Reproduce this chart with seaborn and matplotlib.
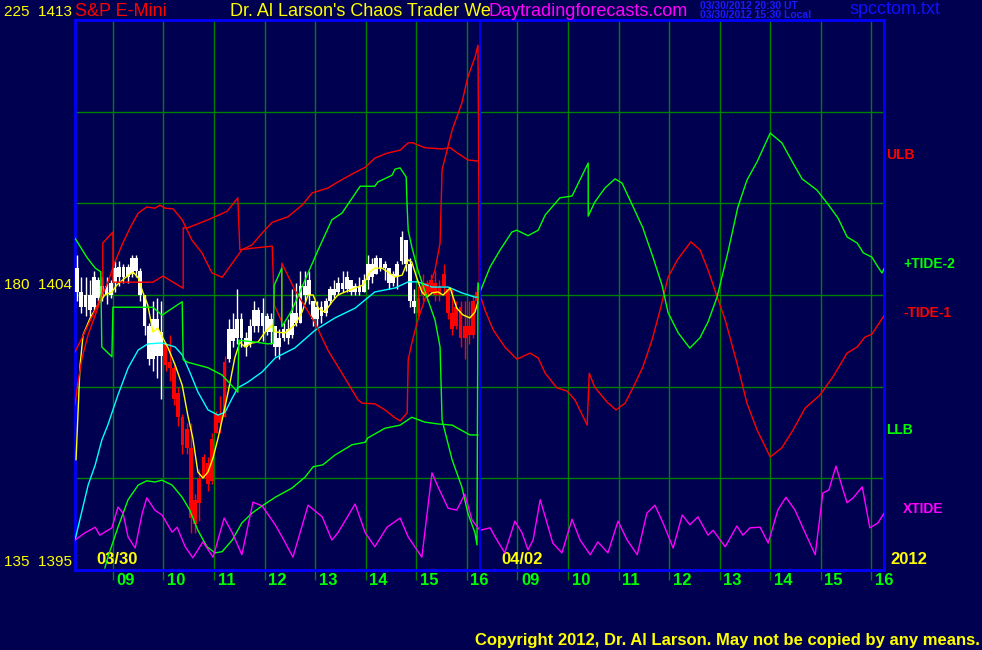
import matplotlib
matplotlib.use("Agg")
import matplotlib.pyplot as plt
from matplotlib import font_manager
import numpy as np
import seaborn as sns

# Colores
BG = "#000050"
GRID = "#008000"
BLUE = "#0000ff"
RED = "#ff0000"
GREEN = "#00ff00"
YELLOW = "#ffff00"
MAGENTA = "#ff00ff"
CYAN = "#00ffff"

# Barras de 5 minutos del 03/30 (precio S&P E-Mini)
bar_open = [1404.9, 1404.1, 1403.6, 1404.0, 1403.6, 1404.5, 1403.9, 1404.3, 1404.0, 1404.4, 1404.9, 1404.6,
            1404.9, 1404.7, 1405.2, 1404.8, 1404.0, 1403.0, 1401.9, 1403.2, 1402.0, 1402.4, 1401.8, 1401.6,
            1400.8, 1400.0, 1399.6, 1399.0, 1396.5, 1397.2, 1398.0, 1398.5, 1397.9, 1399.5, 1400.1, 1400.0,
            1401.9, 1402.9, 1402.6, 1403.2, 1402.6, 1402.4, 1403.0, 1403.5, 1403.0, 1403.3, 1402.8, 1403.0,
            1402.3, 1402.6, 1402.9, 1402.7, 1403.4, 1403.1, 1404.3, 1404.0, 1403.8, 1403.2, 1403.6, 1403.4,
            1403.8, 1404.2, 1404.1, 1404.4, 1404.2, 1404.5, 1404.1, 1404.3, 1404.1, 1404.5, 1405.0, 1404.7,
            1405.2, 1404.9, 1404.9, 1404.4, 1404.6, 1405.1, 1405.8, 1405.0, 1403.8, 1403.9, 1404.0, 1404.4,
            1404.1, 1404.4, 1404.0, 1404.3, 1404.2, 1403.4, 1403.0, 1403.6, 1402.6, 1403.0, 1402.7, 1403.8]
bar_high = [1405.3, 1404.6, 1404.6, 1404.5, 1404.8, 1404.6, 1404.6, 1404.6, 1404.5, 1405.1, 1405.1, 1405.0,
            1405.0, 1405.3, 1405.3, 1404.9, 1404.0, 1403.1, 1403.8, 1403.9, 1403.8, 1402.4, 1402.7, 1401.7,
            1401.0, 1400.1, 1399.8, 1399.8, 1397.5, 1398.3, 1398.8, 1398.7, 1399.5, 1400.2, 1400.7, 1402.0,
            1403.2, 1403.4, 1404.2, 1403.4, 1402.8, 1403.2, 1403.8, 1403.6, 1403.9, 1403.4, 1403.4, 1403.0,
            1402.9, 1403.1, 1403.2, 1404.2, 1404.4, 1404.8, 1404.8, 1404.8, 1403.8, 1403.8, 1403.8, 1403.9,
            1404.3, 1404.5, 1404.6, 1404.8, 1404.8, 1404.5, 1404.4, 1404.6, 1404.7, 1405.3, 1405.2, 1405.3,
            1405.2, 1405.1, 1404.9, 1404.8, 1405.1, 1406.1, 1405.8, 1405.2, 1404.2, 1404.3, 1404.7, 1404.5,
            1404.7, 1404.8, 1404.5, 1405.0, 1404.2, 1404.2, 1403.8, 1403.8, 1403.8, 1403.8, 1404.0, 1404.3]
bar_low = [1403.8, 1403.4, 1403.3, 1403.3, 1403.5, 1403.8, 1403.8, 1403.7, 1403.9, 1404.1, 1404.3, 1404.4,
           1404.4, 1404.6, 1404.6, 1403.8, 1402.7, 1401.7, 1401.5, 1401.3, 1400.6, 1401.5, 1401.2, 1400.4,
           1399.7, 1398.8, 1398.8, 1396.2, 1396.2, 1396.6, 1398.0, 1397.6, 1397.8, 1399.5, 1399.5, 1400.0,
           1401.8, 1402.3, 1402.4, 1402.3, 1402.0, 1402.3, 1402.8, 1402.8, 1402.5, 1402.7, 1402.4, 1402.0,
           1401.9, 1402.5, 1402.4, 1402.6, 1403.0, 1403.1, 1403.8, 1403.7, 1403.0, 1403.0, 1403.1, 1403.3,
           1403.7, 1403.9, 1404.0, 1404.1, 1404.1, 1404.0, 1404.0, 1404.0, 1404.1, 1404.2, 1404.4, 1404.7,
           1404.8, 1404.5, 1404.2, 1404.3, 1404.2, 1405.0, 1404.8, 1403.6, 1403.4, 1403.3, 1403.8, 1403.8,
           1404.0, 1403.8, 1403.8, 1404.0, 1403.2, 1402.7, 1402.9, 1402.3, 1401.9, 1402.4, 1402.6, 1403.7]
bar_close = [1404.1, 1403.6, 1404.0, 1403.5, 1404.6, 1403.9, 1404.3, 1404.0, 1404.4, 1404.9, 1404.6, 1404.9,
             1404.6, 1405.2, 1404.8, 1404.0, 1403.0, 1401.9, 1403.2, 1402.0, 1402.8, 1401.7, 1401.6, 1400.6,
             1400.0, 1399.1, 1399.0, 1396.7, 1397.3, 1398.0, 1398.7, 1397.8, 1399.3, 1400.1, 1399.8, 1401.8,
             1402.9, 1402.5, 1403.2, 1402.6, 1402.3, 1403.0, 1403.5, 1403.0, 1403.4, 1402.8, 1403.2, 1402.3,
             1402.6, 1402.9, 1402.6, 1403.4, 1403.1, 1404.3, 1404.0, 1404.5, 1403.2, 1403.6, 1403.3, 1403.8,
             1404.2, 1404.0, 1404.4, 1404.2, 1404.6, 1404.1, 1404.3, 1404.1, 1404.5, 1405.0, 1404.6, 1405.2,
             1404.9, 1405.0, 1404.4, 1404.7, 1405.0, 1405.9, 1405.0, 1403.8, 1403.6, 1403.4, 1404.4, 1404.0,
             1404.5, 1404.0, 1404.3, 1404.7, 1403.4, 1402.9, 1403.6, 1402.6, 1403.0, 1402.7, 1403.8, 1404.1]
bar_color = ("wwwwwwwwwwww" "wwwwwwwwwrrr" "rrrrrrrrrrrr" "wwwwwwwwwwww"
             "wwwwwwwwwwww" "wwwwwwwwwwww" "wwwwwwwwwrrr" "rrrrrrrrrrrr")

# Promedios moviles (amarillo y cian), horas desde 08:15 del 03/30
yellow_h = [0.02, 0.10, 0.16, 0.30, 0.45, 0.59, 0.73, 0.83, 0.99, 1.15, 1.25, 1.34, 1.44, 1.54, 1.64, 1.74,
            1.84, 1.98, 2.12, 2.23, 2.33, 2.43, 2.53, 2.63, 2.73, 2.83, 2.93, 3.03, 3.16, 3.26, 3.36, 3.50,
            3.62, 3.76, 3.90, 3.96, 4.15, 4.35, 4.49, 4.61, 4.71, 4.81, 4.94, 5.08, 5.20, 5.34, 5.54, 5.70,
            5.83, 5.93, 6.07, 6.19, 6.33, 6.47, 6.59, 6.66, 6.76, 6.86, 6.96, 7.06, 7.18, 7.28, 7.42, 7.55,
            7.67, 7.81, 7.91, 7.97]
yellow_p = [1398.60, 1401.71, 1402.69, 1403.25, 1403.67, 1404.00, 1404.10, 1404.33, 1404.56, 1404.75,
            1404.56, 1404.10, 1403.67, 1402.79, 1402.92, 1402.59, 1402.27, 1401.71, 1401.05, 1400.07,
            1399.32, 1398.21, 1398.01, 1398.21, 1398.67, 1399.32, 1400.07, 1400.83, 1401.94, 1402.46,
            1402.30, 1402.43, 1402.46, 1402.79, 1403.02, 1402.79, 1402.76, 1403.02, 1403.44, 1404.00,
            1404.00, 1403.57, 1403.44, 1403.77, 1404.00, 1404.10, 1404.23, 1404.33, 1404.75, 1404.88,
            1404.88, 1404.75, 1404.59, 1404.65, 1405.15, 1405.08, 1404.56, 1404.10, 1403.93, 1404.07,
            1404.10, 1404.00, 1404.23, 1403.57, 1403.35, 1403.25, 1403.44, 1403.77]
cyan_h = [0.00, 0.26, 0.40, 0.53, 0.65, 0.85, 1.05, 1.25, 1.44, 1.72, 1.98, 2.12, 2.27, 2.43, 2.63, 2.83,
          2.97, 3.11, 3.22, 3.42, 3.70, 3.96, 4.35, 4.75, 5.14, 5.54, 5.93, 6.33, 6.59, 6.78, 7.06, 7.38,
          7.65, 7.91, 7.97]
cyan_p = [1395.98, 1397.78, 1398.44, 1399.25, 1399.75, 1400.73, 1401.61, 1402.20, 1402.40, 1402.43,
          1402.30, 1402.04, 1401.48, 1400.83, 1400.24, 1400.07, 1400.17, 1400.63, 1400.96, 1401.15,
          1401.48, 1401.94, 1402.27, 1402.85, 1403.25, 1403.57, 1404.10, 1404.23, 1404.43, 1404.43,
          1404.26, 1404.26, 1404.07, 1403.93, 1403.93]

# Mareas (escala 135-225)
tide2_h = [0.00, 0.24, 0.40, 0.51, 0.53, 0.73, 0.75, 1.54, 1.72, 2.12, 2.14, 2.23, 2.63, 2.91, 3.22, 3.24,
           3.56, 3.82, 3.92, 3.94, 4.09, 4.09, 4.29, 4.61, 4.81, 5.08, 5.28, 5.64, 5.93, 5.99, 6.27, 6.33,
           6.43, 6.55, 6.57, 6.59, 6.66, 6.78, 6.98, 7.12, 7.22, 7.26, 7.46, 7.65, 7.77, 7.91, 7.95, 7.97,
           8.01, 8.21, 8.41, 8.64, 8.74, 8.96, 9.16, 9.30, 9.59, 9.83, 10.15, 10.15, 10.28, 10.48, 10.68,
           10.82, 11.04, 11.23, 11.43, 11.61, 11.73, 11.93, 12.16, 12.36, 12.52, 12.70, 12.91, 13.11,
           13.29, 13.49, 13.75, 13.98, 14.20, 14.38, 14.67, 14.87, 15.09, 15.27, 15.47, 15.59, 15.76,
           15.88, 15.96, 16.00]
tide2_v = [189.3, 186.1, 184.4, 183.8, 171.5, 169.9, 178.0, 178.0, 176.7, 178.9, 169.4, 169.0, 168.1, 166.9,
           164.1, 172.6, 172.3, 172.0, 172.1, 181.6, 184.4, 174.8, 177.5, 183.6, 187.4, 192.3, 193.4, 197.8,
           197.8, 198.5, 199.6, 200.6, 200.8, 199.3, 194.2, 190.6, 187.9, 184.1, 179.2, 175.9, 171.5, 159.5,
           153.0, 148.6, 144.3, 141.1, 139.1, 182.0,
           180.5, 184.6, 187.4, 190.3, 190.6, 189.7, 190.6, 193.1, 195.9, 196.2, 201.6, 192.9, 195.2, 197.5,
           199.0, 198.3, 194.4, 191.0, 186.2, 181.6, 177.1, 173.8, 171.3, 173.0, 175.6, 179.7, 186.9, 194.4,
           198.8, 201.8, 206.5, 204.9, 201.6, 199.0, 197.2, 195.1, 192.6, 189.5, 188.5, 186.9, 186.2, 184.6,
           183.6, 184.3]
tide1_h = [0.00, 0.14, 0.26, 0.45, 0.55, 0.55, 0.75, 0.75, 1.54, 1.74, 2.14, 2.14, 2.23, 2.63, 3.01, 3.22,
           3.26, 3.56, 3.90, 3.94, 4.09, 4.09, 4.35, 4.75, 5.00, 5.28, 5.60, 5.68, 5.93, 6.13, 6.33, 6.43,
           6.57, 6.59, 6.66, 6.78, 6.98, 7.12, 7.22, 7.26, 7.46, 7.65, 7.77, 7.91, 7.97, 8.00,
           8.01, 8.11, 8.27, 8.50, 8.74, 9.00, 9.16, 9.30, 9.53, 9.73, 9.89, 10.13, 10.17, 10.28, 10.52,
           10.70, 10.88, 11.04, 11.23, 11.41, 11.57, 11.73, 11.91, 12.18, 12.36, 12.52, 12.70, 12.86,
           13.09, 13.29, 13.49, 13.75, 13.98, 14.20, 14.44, 14.73, 14.99, 15.27, 15.47, 15.62, 15.76,
           15.88, 16.00]
tide1_v = [170.7, 173.0, 175.1, 178.4, 180.8, 188.5, 190.3, 182.1, 182.1, 183.1, 181.1, 191.0, 191.0, 192.3,
           193.7, 195.9, 187.4, 187.7, 188.0, 178.4, 175.6, 185.2, 180.8, 175.4, 171.0, 167.2, 162.8, 162.3,
           162.2, 161.2, 159.9, 159.4, 160.7, 169.4, 172.1, 175.9, 180.8, 184.1, 188.5, 200.5, 207.0, 211.4,
           215.7, 218.9, 220.9, 179.2,
           180.0, 177.5, 174.3, 171.5, 169.5, 170.5, 169.7, 167.2, 164.8, 164.3, 162.8, 158.7, 167.2, 164.9,
           162.5, 161.2, 162.3, 164.9, 168.2, 172.6, 177.5, 182.9, 185.7, 188.7, 187.4, 184.1, 179.7, 175.9,
           168.9, 162.3, 157.9, 153.5, 155.0, 157.9, 161.5, 163.6, 166.6, 170.5, 171.5, 173.1, 173.6, 175.1,
           176.6]
ulb_h = [0.00, 0.06, 0.14, 0.26, 0.40, 0.53, 0.65, 0.79, 0.93, 1.09, 1.25, 1.42, 1.58, 1.68, 1.78, 1.94,
         2.12, 2.22, 2.31, 2.51, 2.71, 2.91, 3.11, 3.30, 3.50, 3.72, 3.90, 4.21, 4.49, 4.69, 5.00, 5.20,
         5.48, 5.74, 5.93, 6.17, 6.43, 6.59, 6.68, 6.92, 7.26, 7.42, 7.57, 7.77, 7.97]
ulb_v = [162.0, 165.8, 169.7, 173.5, 176.7, 179.7, 182.1, 185.4, 188.2, 191.0, 193.4, 194.4, 194.2, 194.7,
         194.2, 194.1, 192.3, 190.6, 189.0, 186.9, 183.6, 182.9, 185.2, 187.4, 188.2, 190.3, 191.9, 192.8,
         194.7, 196.7, 197.5, 198.5, 199.8, 200.9, 202.4, 203.2, 203.7, 204.9, 204.9, 204.1, 203.9, 204.1,
         203.2, 202.1, 201.9]
llb_h = [0.59, 0.65, 0.85, 1.05, 1.25, 1.42, 1.58, 1.72, 1.92, 2.12, 2.27, 2.43, 2.61, 2.77, 2.91, 3.11,
         3.30, 3.50, 3.72, 3.96, 4.29, 4.55, 4.71, 4.90, 5.14, 5.48, 5.74, 5.79, 6.13, 6.43, 6.66, 6.92,
         7.18, 7.46, 7.81, 7.97]
llb_v = [135.3, 137.1, 142.0, 146.5, 148.9, 149.6, 149.4, 149.7, 148.9, 146.9, 144.8, 141.5, 138.8, 137.8,
         138.0, 139.9, 142.7, 144.3, 145.6, 146.9, 148.4, 150.2, 151.9, 152.2, 153.8, 155.5, 155.9, 156.6,
         158.2, 158.7, 160.0, 159.2, 158.9, 158.7, 157.1, 157.1]
xtide_h = [0.00, 0.20, 0.40, 0.49, 0.73, 0.85, 0.95, 1.05, 1.19, 1.33, 1.42, 1.58, 1.72, 1.92, 2.02, 2.18,
           2.33, 2.53, 2.73, 2.95, 3.11, 3.30, 3.52, 3.70, 3.96, 4.15, 4.31, 4.61, 4.89, 5.08, 5.20, 5.54,
           5.74, 5.93, 6.17, 6.43, 6.59, 6.86, 7.06, 7.18, 7.38, 7.55, 7.71, 7.85, 7.97,
           8.01, 8.21, 8.31, 8.50, 8.70, 8.84, 8.96, 9.06, 9.20, 9.30, 9.45, 9.63, 9.83, 9.99, 10.19, 10.34,
           10.54, 10.74, 10.92, 11.12, 11.31, 11.47, 11.63, 11.83, 12.01, 12.16, 12.32, 12.52, 12.62,
           12.86, 13.09, 13.21, 13.35, 13.55, 13.71, 13.90, 14.06, 14.24, 14.44, 14.64, 14.79, 14.91,
           15.05, 15.19, 15.27, 15.39, 15.57, 15.72, 15.88, 16.00]
xtide_v = [139.9, 141.1, 142.0, 140.7, 141.9, 145.3, 144.3, 140.4, 138.6, 144.3, 146.8, 144.8, 144.0, 141.2,
           142.0, 138.8, 137.0, 139.6, 137.1, 143.5, 141.1, 137.5, 146.1, 145.5, 142.4, 139.6, 137.1, 145.6,
           143.7, 139.9, 141.1, 145.8, 141.1, 138.8, 142.0, 143.5, 140.4, 137.1, 150.9, 148.6, 145.1, 144.8,
           147.4, 143.2, 141.9,
           141.5, 141.9, 140.4, 137.8, 143.0, 141.1, 138.3, 139.9, 146.5, 143.7, 139.4, 137.8, 143.3, 139.9,
           137.5, 139.6, 137.8, 143.0, 139.9, 137.5, 144.3, 145.6, 142.7, 138.6, 144.0, 142.4, 143.7, 140.7,
           141.5, 138.8, 142.2, 140.7, 141.9, 142.0, 139.4, 144.8, 146.9, 144.8, 141.1, 137.5, 147.6, 148.1,
           152.0, 148.1, 146.0, 146.8, 148.6, 141.9, 142.7, 144.3]

# Eje de horas: 09..16 del 03/30 y 09..16 del 04/02
hour_ticks = [0.75, 1.75, 2.75, 3.75, 4.75, 5.75, 6.75, 7.75,
              8.75, 9.75, 10.75, 11.75, 12.75, 13.75, 14.75, 15.75]
hour_labels = ["09", "10", "11", "12", "13", "14", "15", "16",
               "09", "10", "11", "12", "13", "14", "15", "16"]

sns.set_theme(style="dark", rc={"axes.facecolor": BG, "figure.facecolor": BG})
plt.rcParams["font.family"] = ["Liberation Sans", "DejaVu Sans"]

# Fuente estrecha para los numeros, si existe
installed = {f.name for f in font_manager.fontManager.ttflist}
if "Liberation Sans Narrow" in installed:
    NUM_FONT, NUM_SIZE, AX_SIZE = ["Liberation Sans Narrow", "Liberation Sans"], 14, 14
else:
    NUM_FONT, NUM_SIZE, AX_SIZE = ["Liberation Sans", "DejaVu Sans"], 12, 11

W, H = 982, 650
fig = plt.figure(figsize=(W / 100, H / 100), dpi=100)
ax = fig.add_axes([75 / W, 1 - 570 / H, 809 / W, 550 / H])
ax.set_facecolor(BG)

# Barras de precio
bar_t = np.arange(len(bar_close)) / 12 + 1 / 24
cols = ["white" if k == "w" else RED for k in bar_color]
body_lo = np.minimum(bar_open, bar_close)
body_h = np.maximum(np.abs(np.array(bar_close) - np.array(bar_open)), 0.05)
ax.vlines(bar_t, bar_low, bar_high, colors=cols, lw=1, zorder=3)
ax.bar(bar_t, body_h, bottom=body_lo, width=0.075, color=cols, linewidth=0, zorder=3)

sns.lineplot(x=cyan_h, y=cyan_p, ax=ax, color=CYAN, lw=1, sort=False, estimator=None, zorder=4)
sns.lineplot(x=yellow_h, y=yellow_p, ax=ax, color=YELLOW, lw=1, sort=False, estimator=None, zorder=4)

# Mareas en eje gemelo
ax2 = ax.twinx()
sns.lineplot(x=ulb_h, y=ulb_v, ax=ax2, color=RED, lw=1, sort=False, estimator=None)
sns.lineplot(x=llb_h, y=llb_v, ax=ax2, color=GREEN, lw=1, sort=False, estimator=None)
sns.lineplot(x=tide1_h, y=tide1_v, ax=ax2, color=RED, lw=1, sort=False, estimator=None)
sns.lineplot(x=tide2_h, y=tide2_v, ax=ax2, color=GREEN, lw=1, sort=False, estimator=None)
sns.lineplot(x=xtide_h, y=xtide_v, ax=ax2, color=MAGENTA, lw=1, sort=False, estimator=None)
ax2.axvline(8.0, color=BLUE, lw=1.3)

ax.set_xlim(0, 16)
ax.set_ylim(1395, 1413)
ax2.set_ylim(135, 225)
ax.set_xticks(hour_ticks)
ax.set_xticklabels([])
ax.set_yticks([1398, 1401, 1404, 1407, 1410])
ax.set_yticklabels([])
ax.tick_params(axis="x", bottom=True, length=7, width=1, color=GRID, direction="out")
ax.tick_params(axis="y", left=False, length=0)
ax2.set_yticks([])
ax.grid(True, color=GRID, lw=1)
ax.set_axisbelow(True)
ax.set_xlabel("")
ax.set_ylabel("")
ax2.set_ylabel("")
for s in ax.spines.values():
    s.set_color(BLUE)
    s.set_linewidth(2)
for s in ax2.spines.values():
    s.set_visible(False)

# Etiquetas de horas
for t, lab in zip(hour_ticks, hour_labels):
    ax.text(t + 0.07, -0.006, lab, transform=ax.get_xaxis_transform(), ha="left", va="top",
            color=GREEN, fontsize=NUM_SIZE, fontweight="bold", family=NUM_FONT)
ax.text(0.415, 0.006, "03/30", transform=ax.get_xaxis_transform(), ha="left", va="bottom",
        color=YELLOW, fontsize=NUM_SIZE, fontweight="bold", family=NUM_FONT)
ax.text(8.43, 0.006, "04/02", transform=ax.get_xaxis_transform(), ha="left", va="bottom",
        color=YELLOW, fontsize=NUM_SIZE, fontweight="bold", family=NUM_FONT)


def fp(x, y):
    return x / W, 1 - y / H


# Textos fuera del grafico
fig.text(*fp(890, 559), "2012", color=YELLOW, fontsize=NUM_SIZE, fontweight="bold", va="center",
         family=NUM_FONT)
fig.text(*fp(72, 12), "225  1413", color=YELLOW, fontsize=AX_SIZE, ha="right", va="center", family=NUM_FONT)
fig.text(*fp(72, 285), "180  1404", color=YELLOW, fontsize=AX_SIZE, ha="right", va="center", family=NUM_FONT)
fig.text(*fp(72, 562), "135  1395", color=YELLOW, fontsize=AX_SIZE, ha="right", va="center", family=NUM_FONT)

fig.text(*fp(75, 11), "S&P E-Mini", color=RED, fontsize=13, va="center")
fig.text(*fp(230, 11), "Dr. Al Larson's Chaos Trader We", color=YELLOW, fontsize=13, va="center")
fig.text(*fp(489, 11), "Daytradingforecasts.com", color=MAGENTA, fontsize=13, va="center")
fig.text(*fp(700, 6), "03/30/2012 20:30 UT", color="#1a1aff", fontsize=7.5, fontweight="bold", va="center")
fig.text(*fp(700, 15), "03/30/2012 15:30 Local", color="#1a1aff", fontsize=7.5, fontweight="bold", va="center")
fig.text(*fp(850, 10), "spcctom.txt", color="#1010ff", fontsize=13, va="center")

fig.text(*fp(886, 155), "ULB", color=RED, fontsize=10, fontweight="bold", va="center")
fig.text(*fp(903, 264), "+TIDE-2", color=GREEN, fontsize=10, fontweight="bold", va="center")
fig.text(*fp(903, 313), "-TIDE-1", color=RED, fontsize=10, fontweight="bold", va="center")
fig.text(*fp(886, 430), "LLB", color=GREEN, fontsize=10, fontweight="bold", va="center")
fig.text(*fp(903, 509), "XTIDE", color=MAGENTA, fontsize=10, fontweight="bold", va="center")

fig.text(*fp(980, 640), "Copyright 2012, Dr. Al Larson. May not be copied by any means.",
         color=YELLOW, fontsize=12, fontweight="bold", ha="right", va="center")

fig.savefig("out.png", dpi=100, facecolor=BG)
